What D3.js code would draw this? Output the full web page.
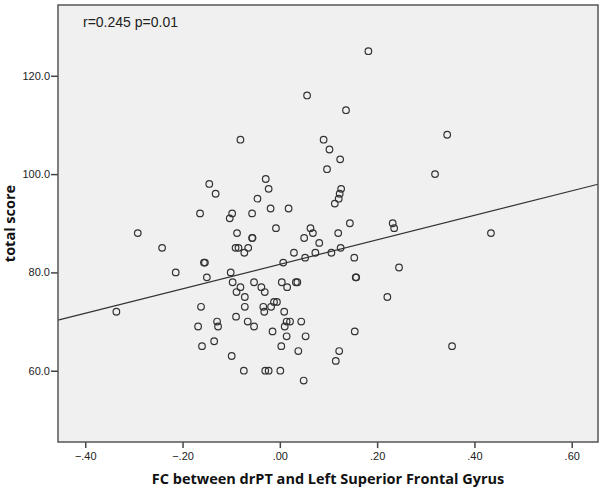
<!DOCTYPE html>
<html lang="en">
<head>
    <meta charset="UTF-8">
    <title>FC vs total score</title>
    <script src="https://cdn.jsdelivr.net/npm/d3@7"></script>
    <style>
        body {
            margin: 0;
            background: white;
        }
        .tick text {
            font-family: "Liberation Sans", Arial, sans-serif;
            font-size: 11px;
            fill: #222;
        }
        .axis-title {
            font-family: "Open Sans", sans-serif;
            font-weight: bold;
            font-size: 14.5px;
            fill: #111;
        }
        .note {
            font-family: "Liberation Sans", Arial, sans-serif;
            font-size: 14px;
            fill: #222;
        }
    </style>
</head>
<body>
<script>
    const width  = 600;
    const height = 491;

    // FC between drPT and Left Superior Frontal Gyrus
    const fcValues = [
        -0.081, -0.145, -0.132, -0.029, -0.023, -0.046, -0.164, -0.098, -0.103, -0.057,
        -0.019,  0.018, -0.008, -0.088, -0.057, -0.056, -0.292, -0.242, -0.091, -0.085,
        -0.065, -0.073,  0.029, -0.156, -0.154, -0.214, -0.101,  0.007, -0.150, -0.097,
        -0.081, -0.089, -0.072, -0.053, -0.038, -0.031,  0.004,  0.015,  0.033,  0.036,
        -0.336, -0.162, -0.072, -0.034, -0.032, -0.018, -0.012, -0.006,  0.009, -0.090,
        -0.129, -0.066,  0.014,  0.021,  0.044,  0.010, -0.168, -0.127, -0.053, -0.015,
         0.014,  0.053, -0.135, -0.160,  0.003,  0.038, -0.099, -0.074, -0.030, -0.023,
         0.001,  0.049,  0.182,  0.056,  0.136,  0.090,  0.102,  0.124,  0.097,  0.126,
         0.123,  0.121,  0.113,  0.144,  0.232,  0.235,  0.063,  0.068,  0.081,  0.120,
         0.125,  0.106,  0.073,  0.153,  0.050,  0.052,  0.344,  0.319,  0.434,  0.245,
         0.156,  0.157,  0.221,  0.154,  0.122,  0.115,  0.354
    ];

    // total score, same order
    const scores = [
        107, 98, 96, 99, 97, 95, 92, 92, 91, 92,
         93, 93, 89, 88, 87, 87, 88, 85, 85, 85,
         85, 84, 84, 82, 82, 80, 80, 82, 79, 78,
         77, 76, 75, 78, 77, 76, 78, 77, 78, 78,
         72, 73, 73, 73, 72, 73, 74, 74, 72, 71,
         70, 70, 70, 70, 70, 69, 69, 69, 69, 68,
         67, 67, 66, 65, 65, 64, 63, 60, 60, 60,
         60, 58, 125, 116, 113, 107, 105, 103, 101, 97,
         96, 95, 94, 90, 90, 89, 89, 88, 86, 88,
         85, 84, 84, 83, 87, 83, 108, 100, 88, 81,
         79, 79, 75, 68, 64, 62, 65
    ];

    const xTicks = [-0.4, -0.2, 0, 0.2, 0.4, 0.6];
    const yTicks = [60, 80, 100, 120];

    // linear fit line as shown in the chart
    const fitIntercept = 81.65;
    const fitSlope = 24.9;
    const noteText = "r=0.245 p=0.01";

    const plot = {left: 58, top: 5, right: 598, bottom: 442};

    const x = d3.scaleLinear()
                .domain([-0.456, 0.654])
                .range([plot.left, plot.right]);

    const y = d3.scaleLinear()
                .domain([45.5, 134.4])
                .range([plot.bottom, plot.top]);

    const svg = d3.select("body").append("svg")
                  .attr("width", width)
                  .attr("height", height);

    // plot background
    svg.append("rect")
        .attr("x", plot.left)
        .attr("y", plot.top)
        .attr("width", plot.right - plot.left)
        .attr("height", plot.bottom - plot.top)
        .attr("fill", "#f0f0f0");

    const fmtX = d => d3.format(".2f")(d).replace("0.", ".");

    const xAxis = svg.append("g")
        .attr("transform", "translate(0," + plot.bottom + ")")
        .call(d3.axisBottom(x).tickValues(xTicks).tickFormat(fmtX).tickSize(6).tickPadding(4));

    const yAxis = svg.append("g")
        .attr("transform", "translate(" + plot.left + ",0)")
        .call(d3.axisLeft(y).tickValues(yTicks).tickFormat(d3.format(".1f")).tickSize(7).tickPadding(1));

    [xAxis, yAxis].forEach(a => {
        a.select(".domain").remove();
        a.selectAll(".tick line").attr("stroke", "#444").attr("stroke-width", 1.5);
    });

    // regression line
    const xd = x.domain();
    svg.append("line")
        .attr("x1", x(xd[0])).attr("y1", y(fitIntercept + fitSlope * xd[0]))
        .attr("x2", x(xd[1])).attr("y2", y(fitIntercept + fitSlope * xd[1]))
        .attr("stroke", "#333")
        .attr("stroke-width", 1.2);

    // points
    svg.append("g")
        .selectAll("circle")
        .data(fcValues.map((v, i) => [v, scores[i]]))
        .join("circle")
          .attr("cx", d => x(d[0]))
          .attr("cy", d => y(d[1]))
          .attr("r", 3.3)
          .attr("fill", "none")
          .attr("stroke", "#333")
          .attr("stroke-width", 1.2);

    // frame
    svg.append("rect")
        .attr("x", plot.left)
        .attr("y", plot.top)
        .attr("width", plot.right - plot.left)
        .attr("height", plot.bottom - plot.top)
        .attr("fill", "none")
        .attr("stroke", "#555")
        .attr("stroke-width", 1.5);

    svg.append("text")
        .attr("class", "note")
        .attr("x", 83)
        .attr("y", 27)
        .text(noteText);

    svg.append("text")
        .attr("class", "axis-title")
        .attr("x", (plot.left + plot.right) / 2)
        .attr("y", 484)
        .attr("text-anchor", "middle")
        .text("FC between drPT and Left Superior Frontal Gyrus");

    svg.append("text")
        .attr("class", "axis-title")
        .attr("transform", "translate(15," + (plot.top + plot.bottom) / 2 + ") rotate(-90)")
        .attr("text-anchor", "middle")
        .text("total score");
</script>
</body>
</html>
